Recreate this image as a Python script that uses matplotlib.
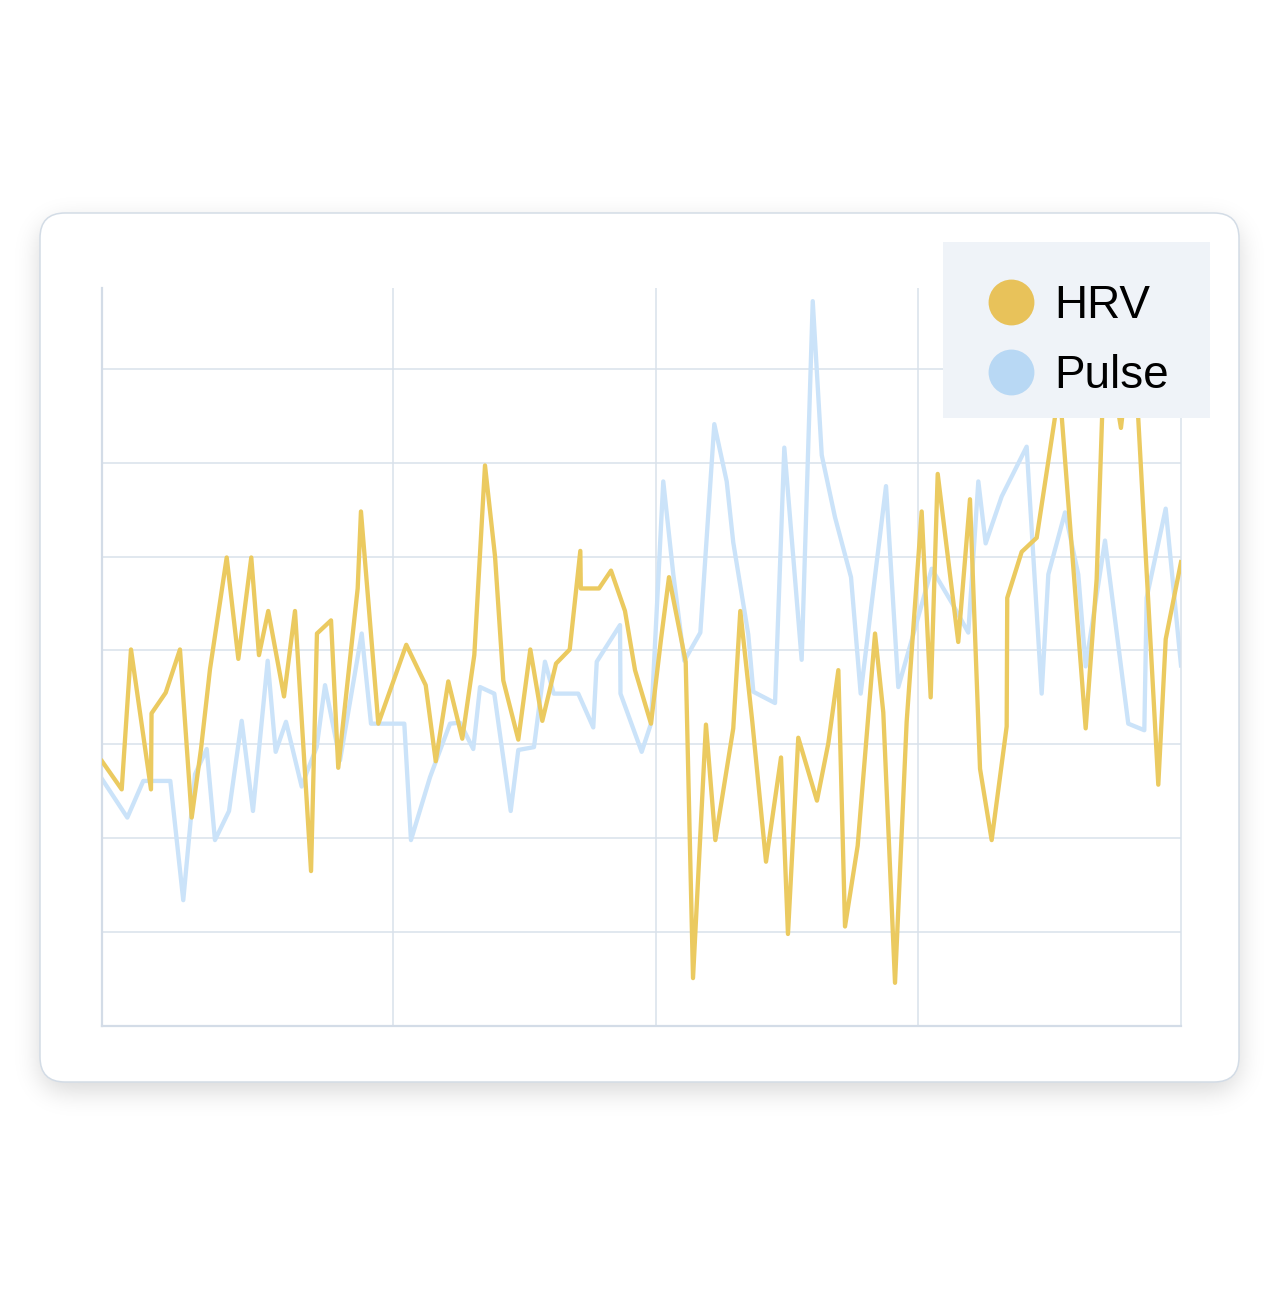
import matplotlib
matplotlib.use('Agg')
import numpy as np
import matplotlib.pyplot as plt
from matplotlib.patches import FancyBboxPatch, Rectangle
from matplotlib.lines import Line2D

# ---- data (x in days from start, y in arbitrary units) ----
series_names = ['HRV', 'Pulse']

hrv_day = [0.0, 2.10, 3.09, 5.22, 5.28, 6.79, 8.31, 9.56, 10.55, 11.51, 13.29, 14.53, 15.91,
           16.73, 17.72, 19.40, 20.57, 22.28, 22.91, 24.41, 25.18, 27.25, 27.60, 29.45, 32.43,
           34.50, 35.57, 36.91, 38.40, 39.68, 40.82, 41.89, 42.77, 44.37, 45.65, 46.93, 48.39,
           49.85, 50.98, 51.03, 52.97, 54.25, 55.74, 56.81, 58.51, 59.58, 60.43, 62.21, 62.99,
           64.37, 65.37, 67.28, 68.03, 69.31, 70.77, 72.37, 73.11, 74.21, 76.20, 77.41, 78.48,
           79.19, 80.54, 82.39, 83.27, 84.52, 85.76, 87.36, 88.32, 89.07, 91.26, 92.51, 93.58,
           94.82, 96.42, 96.48, 98.02, 99.62, 102.05, 104.84, 106.01, 106.90, 108.60, 109.88,
           112.58, 113.37, 115.0]
hrv_val = [28.2, 25.2, 40.1, 25.2, 33.3, 35.5, 40.1, 22.2, 29.5, 38.0, 49.9, 39.1, 49.9,
           39.5, 44.2, 35.1, 44.2, 16.5, 41.8, 43.2, 27.5, 46.6, 54.8, 32.2, 40.6,
           36.3, 28.2, 36.7, 30.6, 39.5, 59.7, 50.0, 36.8, 30.5, 40.1, 32.5, 38.6,
           40.1, 50.6, 46.6, 46.6, 48.5, 44.2, 37.9, 32.2, 41.2, 47.8, 38.8, 5.1,
           32.1, 19.8, 31.7, 44.2, 32.4, 17.5, 28.6, 9.8, 30.7, 24.0, 30.1, 37.9,
           10.6, 19.2, 41.8, 33.4, 4.6, 32.4, 54.8, 35.0, 58.8, 40.9, 56.1, 27.4,
           19.8, 31.9, 45.6, 50.5, 52.0, 68.0, 31.7, 47.6, 74.0, 63.7, 75.0,
           25.7, 41.2, 49.4]

pulse_day = [0.0, 2.70, 4.40, 7.28, 8.66, 9.91, 11.16, 12.04, 13.54, 14.89, 16.09, 17.66,
             18.51, 19.61, 21.28, 21.82, 22.88, 23.77, 25.37, 27.68, 28.67, 32.22, 32.93,
             34.96, 37.09, 38.16, 39.57, 40.29, 41.81, 43.56, 44.37, 46.04, 47.21, 48.14,
             50.76, 52.36, 52.73, 55.21, 55.26, 57.52, 58.51, 59.82, 60.89, 62.06, 63.77,
             65.26, 66.58, 67.28, 68.88, 69.42, 71.73, 72.72, 74.57, 75.75, 76.71, 78.12,
             79.83, 80.86, 83.56, 84.87, 86.47, 88.43, 90.56, 92.33, 93.40, 94.18, 95.89,
             98.55, 100.15, 100.86, 102.64, 104.05, 104.84, 106.90, 109.38, 111.09, 111.34,
             113.37, 115.0]
pulse_val = [26.3, 22.2, 26.1, 26.1, 13.4, 26.8, 29.5, 19.8, 22.9, 32.5, 22.9, 38.9,
             29.2, 32.4, 25.5, 27.0, 29.7, 36.3, 28.3, 41.8, 32.2, 32.2, 19.8,
             26.5, 32.2, 32.3, 29.5, 36.1, 35.4, 22.9, 29.4, 29.7, 38.8, 35.4,
             35.4, 31.8, 38.8, 42.7, 35.4, 29.2, 32.2, 58.0, 48.1, 38.9, 41.9,
             64.1, 58.0, 51.5, 41.7, 35.6, 34.4, 61.6, 39.0, 77.2, 60.8, 54.2,
             47.8, 35.4, 57.5, 36.1, 41.7, 48.7, 45.1, 41.9, 58.0, 51.4, 56.4,
             61.7, 35.4, 48.1, 54.7, 48.1, 38.3, 51.7, 32.2, 31.5, 45.6,
             55.1, 38.4]

x_ticks = [31, 59, 87]
y_ticks = [10, 20, 30, 40, 50, 60, 70]

hrv_color = '#EBCA60'
pulse_color = '#CBE3F9'
hrv_legend_color = '#E8C25A'
pulse_legend_color = '#B8D8F4'
grid_color = '#D9E1EB'

W, H = 1280, 1297
fig = plt.figure(figsize=(W / 100, H / 100), dpi=100)
fig.patch.set_facecolor('white')

# ---- background card with soft (blurred) shadow ----
bg = fig.add_axes([0, 0, 1, 1])
bg.set_xlim(0, W)
bg.set_ylim(H, 0)
bg.axis('off')
cx0, cy0, cx1, cy1 = 40, 213, 1239, 1082
r = 25

off = 9
yy, xx = np.mgrid[0:H, 0:W] + 0.5
ddx = np.maximum(np.maximum(cx0 + r - xx, xx - (cx1 - r)), 0)
ddy = np.maximum(np.maximum(cy0 + off + r - yy, yy - (cy1 + off - r)), 0)
mask = ((ddx ** 2 + ddy ** 2) <= r ** 2).astype(float)
sigma = 13.0
kx = np.arange(-40, 41)
kern = np.exp(-0.5 * (kx / sigma) ** 2)
kern /= kern.sum()
blur = np.apply_along_axis(lambda m: np.convolve(m, kern, mode='same'), 0, mask)
blur = np.apply_along_axis(lambda m: np.convolve(m, kern, mode='same'), 1, blur)
shadow = np.zeros((H, W, 4))
shadow[..., 3] = 0.16 * blur
bg.imshow(shadow, extent=(0, W, H, 0), interpolation='nearest', zorder=0, aspect='auto')

card = FancyBboxPatch((cx0, cy0), cx1 - cx0, cy1 - cy0,
                      boxstyle=f"round,pad=0,rounding_size={r}",
                      facecolor='white', edgecolor='#D3DCE6', linewidth=1.1, zorder=1)
bg.add_patch(card)
bg.set_xlim(0, W)
bg.set_ylim(H, 0)

# ---- main chart ----
ax = fig.add_axes([102 / W, 1 - 1026 / H, 1079 / W, 738 / H])
ax.set_facecolor('none')
ax.set_xlim(0, 115)
ax.set_ylim(0, 78.6)
ax.set_xticks(x_ticks)
ax.set_yticks(y_ticks)
ax.tick_params(length=0, labelbottom=False, labelleft=False)
ax.grid(True, color=grid_color, linewidth=1.1)
ax.set_axisbelow(True)
ax.spines['top'].set_visible(False)
for s in ['left', 'bottom']:
    ax.spines[s].set_color('#D3DCE7')
    ax.spines[s].set_linewidth(1.6)
ax.spines['right'].set_color(grid_color)
ax.spines['right'].set_linewidth(1.1)

ax.plot(pulse_day, pulse_val, color=pulse_color, linewidth=3.1, zorder=2)
ax.plot(hrv_day, hrv_val, color=hrv_color, linewidth=3.1, zorder=3)

# legend background panel (pixel-exact), then legend contents on top
fig_px = bg.transData
panel = Rectangle((943, 242), 1210 - 943, 418 - 242, transform=fig_px,
                  facecolor='#EFF3F8', edgecolor='none', zorder=9, clip_on=False)
ax.add_patch(panel)

handles = [Line2D([], [], linestyle='none', marker='o', markersize=33,
                  markerfacecolor=hrv_legend_color, markeredgecolor='none'),
           Line2D([], [], linestyle='none', marker='o', markersize=33,
                  markerfacecolor=pulse_legend_color, markeredgecolor='none')]
leg = ax.legend(handles, series_names, loc='upper right',
                bbox_to_anchor=(1210 / W, 1 - 243 / H), bbox_transform=fig.transFigure,
                frameon=False, borderpad=0.9, handlelength=1.0, handletextpad=0.44,
                labelspacing=0.557, borderaxespad=0,
                prop={'family': ['Liberation Sans', 'DejaVu Sans'], 'size': 33})
leg.set_zorder(10)

fig.savefig('out.png', dpi=100, facecolor='white')
